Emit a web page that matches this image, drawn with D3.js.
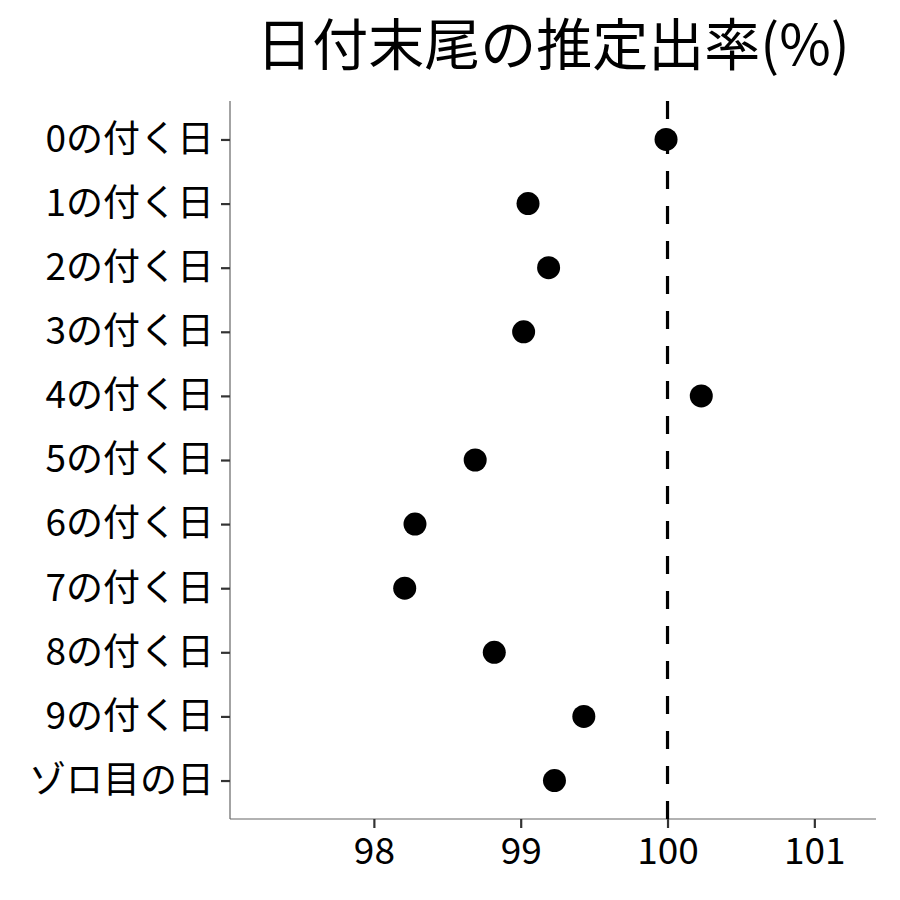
<!DOCTYPE html>
<html>
<head>
<meta charset="utf-8">
<script src="https://cdn.jsdelivr.net/npm/d3@7"></script>
<style>
    body { margin: 0; background: #fff; }
    text { font-family: "Noto Sans CJK JP", "Noto Sans", sans-serif; }
</style>
</head>
<body>
<div id="container"></div>
<script>
const categories = ["0の付く日", "1の付く日", "2の付く日", "3の付く日", "4の付く日",
    "5の付く日", "6の付く日", "7の付く日", "8の付く日", "9の付く日", "ゾロ目の日"];
const rates = [99.99, 99.05, 99.19, 99.02, 100.23, 98.69, 98.28, 98.21, 98.82, 99.43, 99.23];
const xTicks = [98, 99, 100, 101];
const refValue = 100;
const titleText = "日付末尾の推定出率(%)";

const width = 900;
const height = 900;
const marginTop = 101;
const marginRight = 24;
const marginBottom = 81;
const marginLeft = 230;

const x = d3.scaleLinear()
    .domain([97.02, 101.42])
    .range([marginLeft, width - marginRight]);

const y = d3.scalePoint()
    .domain(categories)
    .range([marginTop, height - marginBottom])
    .padding(0.6);

const svg = d3.create("svg")
    .attr("width", width)
    .attr("height", height);

// title, centred over the panel
svg.append("text")
    .attr("x", (marginLeft + width - marginRight) / 2)
    .attr("y", 65)
    .attr("text-anchor", "middle")
    .style("font-size", "56px")
    .text(titleText);

// x axis
const xAxis = svg.append("g")
    .attr("transform", `translate(0,${height - marginBottom})`)
    .call(d3.axisBottom(x).tickValues(xTicks).tickSize(9).tickPadding(10).tickFormat(d3.format("d")));
xAxis.select(".domain").attr("stroke", "#666").attr("stroke-width", 1.2)
    .attr("d", `M${marginLeft},0H${width - marginRight}`);
xAxis.selectAll(".tick line").attr("stroke", "#333").attr("stroke-width", 2.2);
xAxis.selectAll(".tick text").attr("fill", "#000").style("font-size", "37px");

// y axis
const yAxis = svg.append("g")
    .attr("transform", `translate(${marginLeft},0)`)
    .call(d3.axisLeft(y).tickSize(9).tickPadding(7));
yAxis.select(".domain").attr("stroke", "#666").attr("stroke-width", 1.2)
    .attr("d", `M0,${marginTop}V${height - marginBottom}`);
yAxis.selectAll(".tick line").attr("stroke", "#333").attr("stroke-width", 2.2);
yAxis.selectAll(".tick text").attr("fill", "#000").style("font-size", "37px");

// reference line at 100
svg.append("line")
    .attr("x1", x(refValue))
    .attr("x2", x(refValue))
    .attr("y1", marginTop)
    .attr("y2", height - marginBottom)
    .attr("stroke", "#000")
    .attr("stroke-width", 3.2)
    .attr("stroke-dasharray", "18,17");

// points
svg.selectAll(".pt")
    .data(rates)
    .enter()
    .append("circle")
        .attr("class", "pt")
        .attr("cx", d => x(d))
        .attr("cy", (d, i) => y(categories[i]))
        .attr("r", 11.5)
        .attr("fill", "#000");

document.getElementById("container").append(svg.node());
</script>
</body>
</html>
